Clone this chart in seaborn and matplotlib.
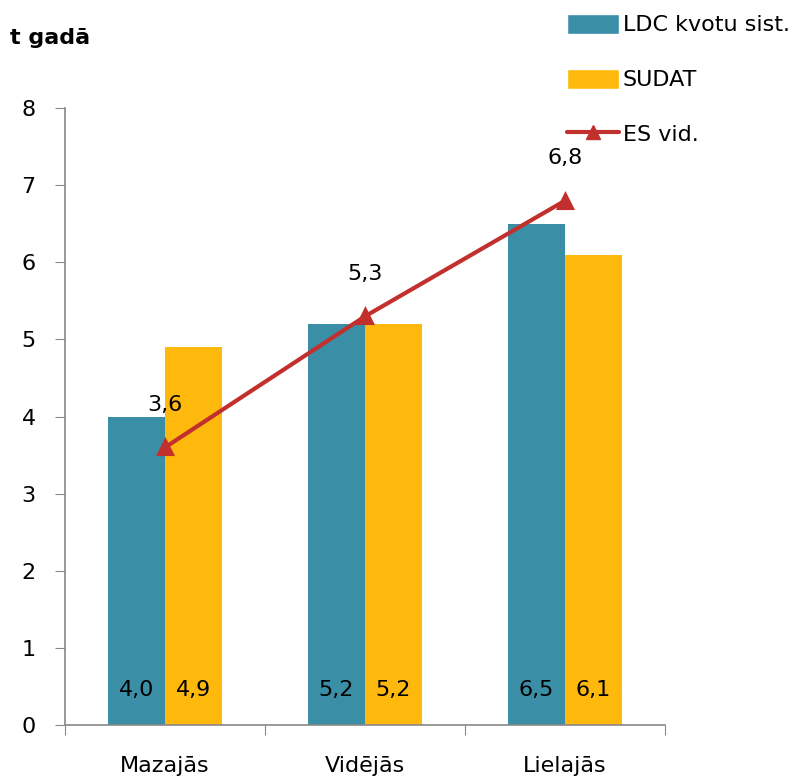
import numpy as np
import pandas as pd
import seaborn as sns
from matplotlib import pyplot as plt
from matplotlib.patches import Patch
from matplotlib.lines import Line2D

# data
categories = ["Mazajās", "Vidējās", "Lielajās"]
ldc = [4.0, 5.2, 6.5]
sudat = [4.9, 5.2, 6.1]
es_vid = [3.6, 5.3, 6.8]
series_names = ["LDC kvotu sist.", "SUDAT", "ES vid."]

TEAL = "#3A8FA6"
YELLOW = "#FFB80C"
RED = "#C2302E"

df = pd.DataFrame({
    "cat": categories * 2,
    "val": ldc + sudat,
    "series": [series_names[0]] * 3 + [series_names[1]] * 3,
})

sns.set_style("white")
plt.rcParams['font.family'] = ['DejaVu Sans']
plt.rcParams['text.color'] = 'black'
plt.rcParams['xtick.color'] = 'black'
plt.rcParams['ytick.color'] = 'black'
FS = 16

fig = plt.figure(figsize=(8.11, 7.78), dpi=100)
ax = fig.add_axes([0.080, 0.068, 0.740, 0.793])

sns.barplot(data=df, x="cat", y="val", hue="series", order=categories,
            palette=[TEAL, YELLOW], width=0.57, saturation=1, linewidth=0,
            ax=ax, legend=False)
sns.pointplot(x=categories, y=es_vid, color=RED, markers="^", linestyles="-",
              markersize=10, linewidth=3, ax=ax)

def fmt(v):
    return f"{v:.1f}".replace(".", ",")

# value labels at the foot of the bars
for i in range(3):
    ax.text(i - 0.1425, 0.45, fmt(ldc[i]), ha="center", va="center", fontsize=FS)
    ax.text(i + 0.1425, 0.45, fmt(sudat[i]), ha="center", va="center", fontsize=FS)
    ax.text(i, es_vid[i] + 0.55, fmt(es_vid[i]), ha="center", va="center", fontsize=FS)

ax.set_ylim(0, 8)
ax.set_xlim(-0.5, 2.5)
ax.set_yticks(range(0, 9))
ax.set_xticks([-0.5, 0.5, 1.5, 2.5])
ax.set_xticklabels([])
ax.set_xticks(range(3), minor=True)
ax.set_xticklabels(categories, minor=True)
ax.tick_params(axis="x", which="minor", length=0, labelsize=FS, pad=22)
ax.tick_params(axis="x", which="major", length=7, color="#888888", direction="out", bottom=True)
ax.tick_params(axis="y", length=7, color="#888888", direction="out", labelsize=FS, pad=14, left=True)
ax.set_xlabel("")
ax.set_ylabel("")
for s in ["top", "right"]:
    ax.spines[s].set_visible(False)
for s in ["left", "bottom"]:
    ax.spines[s].set_color("#888888")
    ax.spines[s].set_linewidth(1.2)

fig.text(0.012, 0.951, "t gadā", fontsize=FS, fontweight="bold", va="center")

handles = [
    Patch(facecolor=TEAL, label=series_names[0]),
    Patch(facecolor=YELLOW, label=series_names[1]),
    Line2D([0], [0], color=RED, lw=3, marker="^", markersize=10, label=series_names[2]),
]
fig.legend(handles=handles, loc="upper left", bbox_to_anchor=(0.675, 1.008), frameon=False,
           fontsize=FS, handlelength=2.3, handleheight=1.0, labelspacing=1.5, handletextpad=0.2)

fig.savefig("out.png", dpi=100)
